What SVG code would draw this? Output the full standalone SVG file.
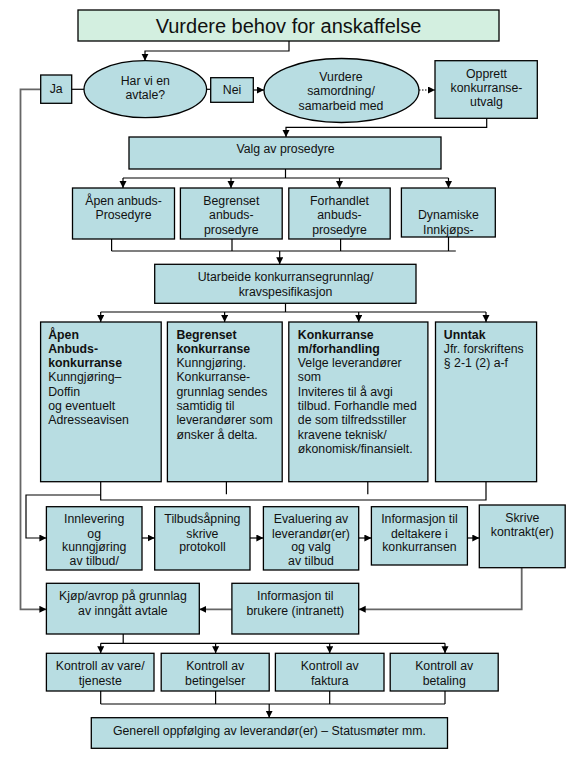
<svg xmlns="http://www.w3.org/2000/svg" width="568" height="758" viewBox="0 0 568 758">
<defs>
<marker id="ah" markerUnits="userSpaceOnUse" markerWidth="8" markerHeight="8" refX="7" refY="3.5" orient="auto">
<path d="M0,0 L7,3.5 L0,7 z" fill="#000"/>
</marker>
<style>
.box{fill:#b8dde2;stroke:#000;stroke-width:1.3}
.tbox{fill:#d3efe0;stroke:#000;stroke-width:1.3}
.ln{fill:none;stroke:#000;stroke-width:1.2}
.gl{fill:none;stroke:#666;stroke-width:1.8}
.ar{marker-end:url(#ah)}
text{font-family:"Liberation Sans",Arial,sans-serif;font-size:12.3px;fill:#111}
.c{text-anchor:middle}
.b{font-weight:bold}
.title{font-size:20px}
</style>
</defs>
<rect width="568" height="758" fill="#fff"/>
<g id="connectors">
<path class="ln ar" d="M289,41 V51 H145 V60.7"/>
<path class="gl ar" d="M40.7,89.3 H20.5 V609.3 H46.4"/>
<path class="ln" d="M71.7,89.3 H84.2"/>
<path class="ln" d="M206.4,89.3 H210.7"/>
<path class="ln ar" d="M253.3,90 H264"/>
<path class="ln ar" d="M419,90 H435" stroke-dasharray="1.5,1.5"/>
<path class="ln ar" d="M486.7,118.3 V127.3 H286 V137"/>
<path class="ln" d="M285.5,169 V178 M123,178 H448.5"/>
<path class="ln ar" d="M123,178 V188"/>
<path class="ln ar" d="M231,178 V188"/>
<path class="ln ar" d="M339.5,178 V188"/>
<path class="ln ar" d="M448.5,178 V188"/>
<path class="ln" d="M111.6,239 V251 M232,239 V251 M340.6,239 V251 M448.5,237 V251 M111.6,251 H455.8"/>
<path class="ln ar" d="M279.7,251 V264.3"/>
<path class="ln" d="M285.5,303.3 V312 M100.7,312 H486"/>
<path class="ln ar" d="M100.7,312 V322"/>
<path class="ln ar" d="M224.6,312 V322"/>
<path class="ln ar" d="M358.7,312 V322"/>
<path class="ln ar" d="M486,312 V322"/>
<path class="ln" d="M100.7,481.7 V500 H486 V481.7 M226.4,481.7 V494.3 M367.8,481.7 V494.3"/>
<path class="ln ar" d="M100.7,495 H26 V538 H46.4"/>
<path class="ln ar" d="M142,538 H154.7"/>
<path class="ln ar" d="M250,538 H263.4"/>
<path class="ln ar" d="M358.7,538 H371.4"/>
<path class="ln ar" d="M467.4,538 H479.3"/>
<path class="gl ar" d="M521.7,567.7 V609.3 H358.7"/>
<path class="gl ar" d="M231.9,609.3 H199.3"/>
<path class="ln" d="M123.2,634 V643.3 M100.7,643.3 H445"/>
<path class="ln ar" d="M100.7,643.3 V653.3"/>
<path class="ln ar" d="M215.6,643.3 V653.3"/>
<path class="ln ar" d="M329.7,643.3 V653.3"/>
<path class="ln ar" d="M445,643.3 V653.3"/>
<path class="ln" d="M100.7,691 V704 M215.6,691 V704 M329.7,691 V704 M445,691 V704 M100.7,704 H445"/>
<path class="ln ar" d="M269.2,704 V717.7"/>
</g>
<g id="title"><rect class="tbox" x="78" y="10" width="421" height="31"/><text class="c title" x="288.5" y="33">Vurdere behov for anskaffelse</text></g>
<g id="ja"><rect class="box" x="40.7" y="75" width="31" height="28.3"/><text class="c" x="56.2" y="93">Ja</text></g>
<g id="avtale"><ellipse class="box" cx="145.3" cy="89.2" rx="61.3" ry="28.5"/><text class="c" x="145.3" y="85">Har vi en</text><text class="c" x="145.3" y="98.5">avtale?</text></g>
<g id="nei"><rect class="box" x="210.7" y="77.7" width="42.6" height="24.6"/><text class="c" x="232" y="94.2">Nei</text></g>
<g id="samordning"><ellipse class="box" cx="341.5" cy="90.5" rx="77.5" ry="32"/><text class="c" x="341" y="80.5">Vurdere</text><text class="c" x="341" y="95">samordning/</text><text class="c" x="341" y="109.5">samarbeid med</text></g>
<g id="opprett"><rect class="box" x="435" y="60.7" width="102.3" height="57.6"/><text class="c" x="486.5" y="77.8">Opprett</text><text class="c" x="486.5" y="91.8">konkurranse-</text><text class="c" x="486.5" y="106">utvalg</text></g>
<g id="valg"><rect class="box" x="129" y="137" width="312" height="32"/><text class="c" x="285.5" y="152.8">Valg av prosedyre</text></g>
<g id="p-aapen"><rect class="box" x="72.5" y="188" width="102" height="51"/><text class="c" x="123.5" y="204.5">Åpen anbuds-</text><text class="c" x="123.5" y="219">Prosedyre</text></g>
<g id="p-begrenset"><rect class="box" x="180.4" y="188" width="101.8" height="51"/><text class="c" x="231.3" y="204.5">Begrenset</text><text class="c" x="231.3" y="219">anbuds-</text><text class="c" x="231.3" y="233.5">prosedyre</text></g>
<g id="p-forhandlet"><rect class="box" x="288.8" y="188" width="101.4" height="51"/><text class="c" x="339.5" y="204.5">Forhandlet</text><text class="c" x="339.5" y="219">anbuds-</text><text class="c" x="339.5" y="233.5">prosedyre</text></g>
<g id="p-dynamiske"><rect class="box" x="401.4" y="188" width="93.9" height="49"/><text class="c" x="448.4" y="219">Dynamiske</text><text class="c" x="448.4" y="233.5">Innkjøps-</text></g>
<g id="utarbeide"><rect class="box" x="154.7" y="264.3" width="261.3" height="39"/><text class="c" x="285.5" y="281">Utarbeide konkurransegrunnlag/</text><text class="c" x="285.5" y="295.5">kravspesifikasjon</text></g>
<g id="k-aapen"><rect class="box" x="40.6" y="322" width="120.6" height="159.7"/>
<text x="48.2" y="338.5" class="b">Åpen</text><text x="48.2" y="352.8" class="b">Anbuds-</text><text x="48.2" y="367.1" class="b">konkurranse</text><text x="48.2" y="381.4">Kunngjøring–</text><text x="48.2" y="395.7">Doffin</text><text x="48.2" y="410">og eventuelt</text><text x="48.2" y="424.3">Adresseavisen</text></g>
<g id="k-begrenset"><rect class="box" x="167.4" y="322" width="114.8" height="159.7"/>
<text x="176.4" y="338.5" class="b">Begrenset</text><text x="176.4" y="352.8" class="b">konkurranse</text><text x="176.4" y="367.1">Kunngjøring.</text><text x="176.4" y="381.4">Konkurranse-</text><text x="176.4" y="395.7">grunnlag sendes</text><text x="176.4" y="410">samtidig til</text><text x="176.4" y="424.3">leverandører som</text><text x="176.4" y="438.6">ønsker å delta.</text></g>
<g id="k-forhandling"><rect class="box" x="288.8" y="322" width="139.1" height="159.7"/>
<text x="297.8" y="338.5" class="b">Konkurranse</text><text x="297.8" y="352.8" class="b">m/forhandling</text><text x="297.8" y="367.1">Velge leverandører</text><text x="297.8" y="381.4">som</text><text x="297.8" y="395.7">Inviteres til å avgi</text><text x="297.8" y="410">tilbud. Forhandle med</text><text x="297.8" y="424.3">de som tilfredsstiller</text><text x="297.8" y="438.6">kravene teknisk/</text><text x="297.8" y="452.9">økonomisk/finansielt.</text></g>
<g id="k-unntak"><rect class="box" x="435.5" y="322" width="101.1" height="159.7"/>
<text x="443.8" y="338.5" class="b">Unntak</text><text x="443.8" y="352.8">Jfr. forskriftens</text><text x="443.8" y="367.1">§ 2-1 (2) a-f</text></g>
<g id="innlevering"><rect class="box" x="46.4" y="506.7" width="95.6" height="63.3"/><text class="c" x="94.2" y="523">Innlevering</text><text class="c" x="94.2" y="537.5">og</text><text class="c" x="94.2" y="551">kunngjøring</text><text class="c" x="94.2" y="564.5">av tilbud/</text></g>
<g id="tilbudsaapning"><rect class="box" x="154.7" y="506.7" width="95.3" height="63.3"/><text class="c" x="202.4" y="523">Tilbudsåpning</text><text class="c" x="202.4" y="537.5">skrive</text><text class="c" x="202.4" y="551">protokoll</text></g>
<g id="evaluering"><rect class="box" x="263.4" y="506.7" width="95.3" height="63.3"/><text class="c" x="311" y="523">Evaluering av</text><text class="c" x="311" y="537.5">leverandør(er)</text><text class="c" x="311" y="551">og valg</text><text class="c" x="311" y="564.5">av tilbud</text></g>
<g id="informasjon"><rect class="box" x="371.4" y="506.7" width="96" height="58.3"/><text class="c" x="419.4" y="523">Informasjon til</text><text class="c" x="419.4" y="537.5">deltakere i</text><text class="c" x="419.4" y="551">konkurransen</text></g>
<g id="skrive"><rect class="box" x="479.3" y="505" width="85.9" height="62.7"/><text class="c" x="522.3" y="522">Skrive</text><text class="c" x="522.3" y="536">kontrakt(er)</text></g>
<g id="kjop"><rect class="box" x="46.4" y="583.3" width="152.9" height="50.7"/><text class="c" x="122.9" y="599.5">Kjøp/avrop på grunnlag</text><text class="c" x="122.9" y="614.5">av inngått avtale</text></g>
<g id="info-brukere"><rect class="box" x="231.9" y="583.3" width="126.8" height="50.7"/><text class="c" x="295.3" y="599.5">Informasjon til</text><text class="c" x="295.3" y="614.5">brukere (intranett)</text></g>
<g id="kontroll-vare"><rect class="box" x="46.4" y="653.3" width="107.6" height="37.7"/><text class="c" x="100.2" y="669.5">Kontroll av vare/</text><text class="c" x="100.2" y="684.5">tjeneste</text></g>
<g id="kontroll-betingelser"><rect class="box" x="161.2" y="653.3" width="108" height="37.7"/><text class="c" x="215.2" y="669.5">Kontroll av</text><text class="c" x="215.2" y="684.5">betingelser</text></g>
<g id="kontroll-faktura"><rect class="box" x="275.4" y="653.3" width="108.6" height="37.7"/><text class="c" x="329.7" y="669.5">Kontroll av</text><text class="c" x="329.7" y="684.5">faktura</text></g>
<g id="kontroll-betaling"><rect class="box" x="390.2" y="653.3" width="108" height="37.7"/><text class="c" x="444.2" y="669.5">Kontroll av</text><text class="c" x="444.2" y="684.5">betaling</text></g>
<g id="generell"><rect class="box" x="91.3" y="717.7" width="356.2" height="30.6"/><text class="c" x="269.4" y="734.5">Generell oppfølging av leverandør(er) – Statusmøter mm.</text></g>
</svg>
